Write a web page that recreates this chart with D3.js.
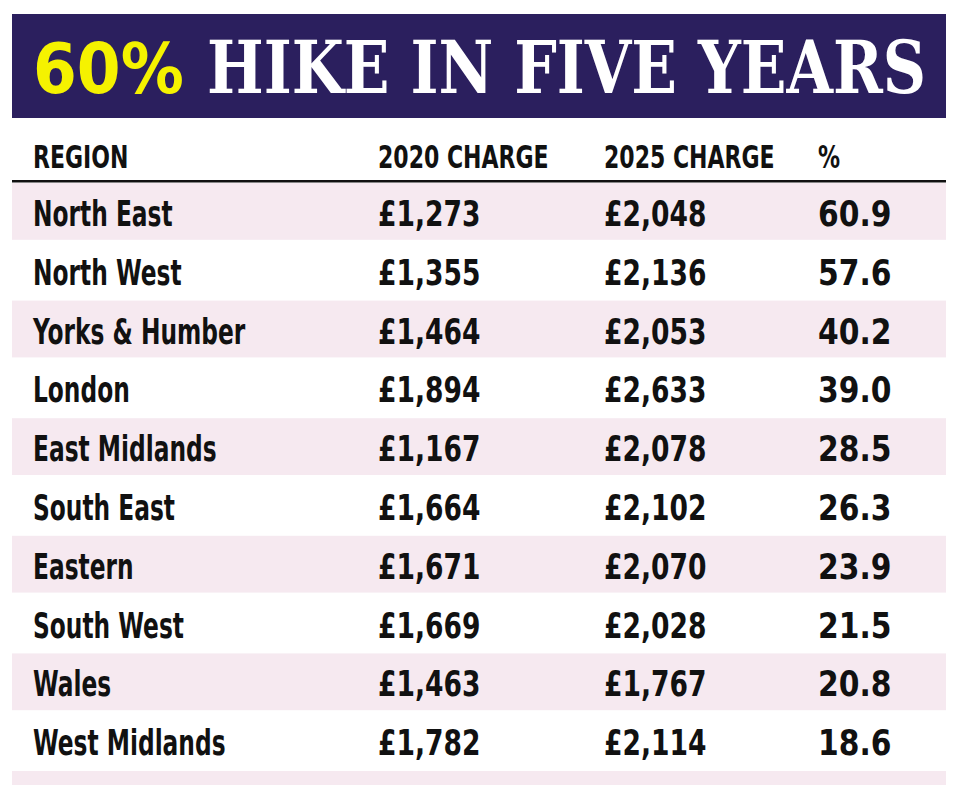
<!DOCTYPE html>
<html><head><meta charset="utf-8">
<script src="https://cdn.jsdelivr.net/npm/d3@7"></script>
<style>body{margin:0;background:#fff}</style></head>
<body><svg id="c" width="960" height="799"></svg>
<script>
const regions = ["North East","North West","Yorks & Humber","London","East Midlands","South East","Eastern","South West","Wales","West Midlands"];
const charge2020 = [1273,1355,1464,1894,1167,1664,1671,1669,1463,1782];
const charge2025 = [2048,2136,2053,2633,2078,2102,2070,2028,1767,2114];
const pct = [60.9,57.6,40.2,39.0,28.5,26.3,23.9,21.5,20.8,18.6];
const headers = ["REGION","2020 CHARGE","2025 CHARGE","%"];

const svg = d3.select("#c");
const font = "'DejaVu Sans Condensed','DejaVu Sans',sans-serif";
svg.append("rect").attr("x",12).attr("y",14).attr("width",934).attr("height",104).attr("fill","#2b1f5e");
svg.append("text").attr("transform","translate(33,93) scale(1.0,1)").attr("font-family",font).attr("font-weight","bold")
  .attr("font-size",70).attr("fill","#f5f200").text("60%");
svg.append("text").attr("transform","translate(207,93) scale(0.833,1)").attr("font-family","'DejaVu Serif',serif").attr("font-weight","bold")
  .attr("font-size",72).attr("fill","#fff").text("HIKE IN FIVE YEARS");

const colX = [33,378,604,818];
const colScale = [0.72,0.82,0.82,0.92];
const y = d3.scaleBand().domain(d3.range(11)).range([183,183+58.8*11]);
svg.selectAll("rect.row").data(d3.range(11).filter(i=>i%2===0)).join("rect")
  .attr("x",12).attr("width",934).attr("y",d=>y(d)).attr("height",d=>d===10?14:y.bandwidth()-2)
  .attr("fill","#f6e9f0");
svg.append("rect").attr("x",12).attr("y",180).attr("width",934).attr("height",2.5).attr("fill","#111");
headers.forEach((h,i)=>{
  svg.append("text").attr("transform",`translate(${colX[i]},168) scale(0.765,1)`).attr("font-family",font).attr("font-weight","bold")
    .attr("font-size",32).attr("fill","#111").text(h);
});
const fmt = d3.format(",");
const rows = regions.map((r,i)=>[r,"£"+fmt(charge2020[i]),"£"+fmt(charge2025[i]),pct[i].toFixed(1)]);
rows.forEach((row,i)=>{
  row.forEach((t,j)=>{
    svg.append("text").attr("transform",`translate(${colX[j]},${y(i)+43}) scale(${colScale[j]},1)`).attr("font-family",font).attr("font-weight","bold")
      .attr("font-size",36).attr("fill","#111").text(t);
  });
});
</script></body></html>
